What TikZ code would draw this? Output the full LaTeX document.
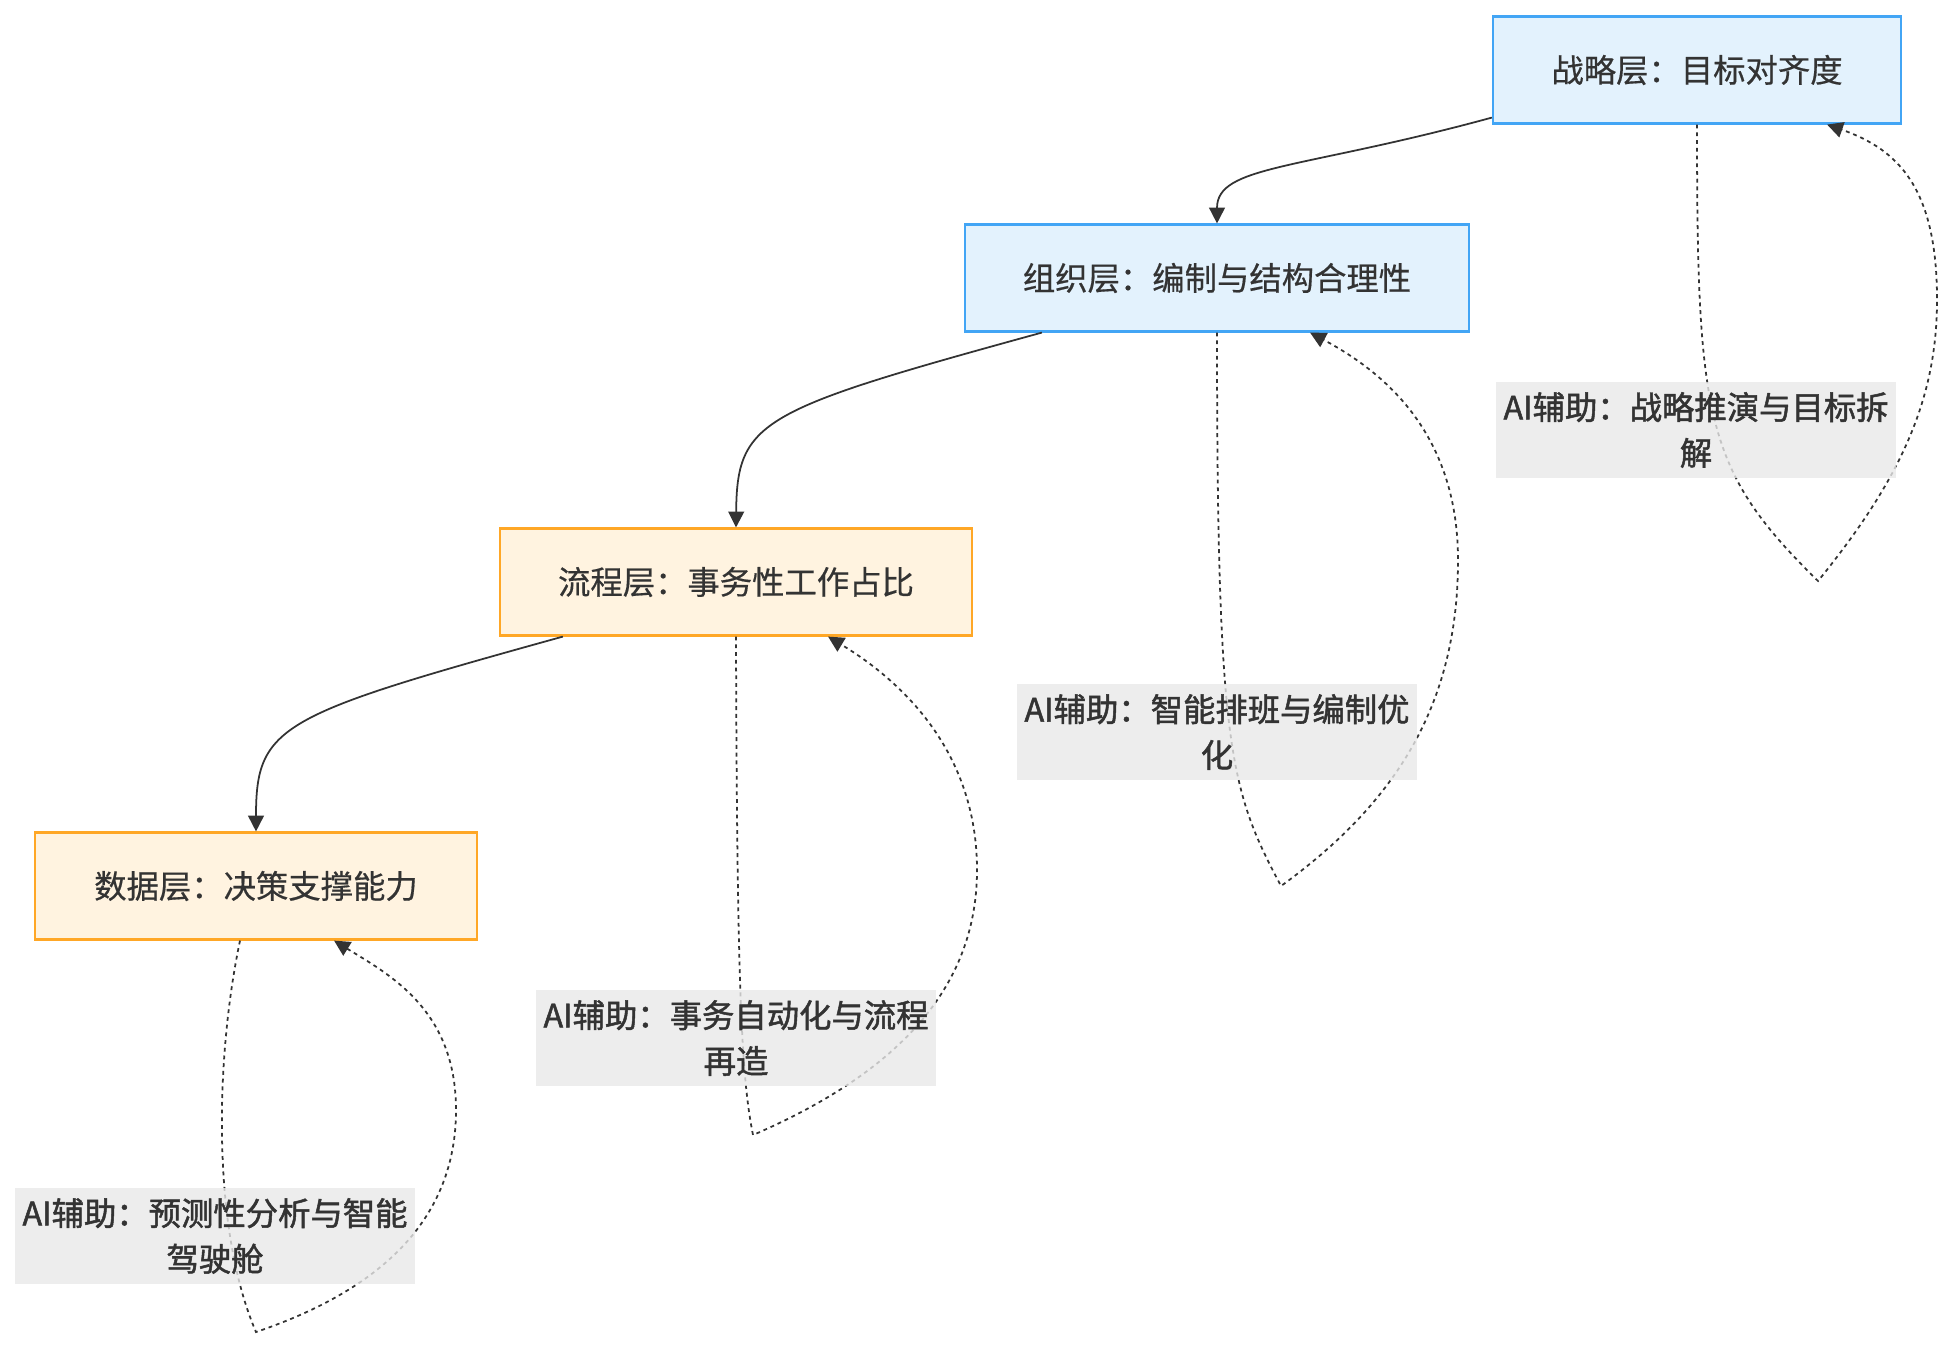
\documentclass[tikz,border=0pt]{standalone}
\usepackage{fontspec}
\setmainfont{Noto Sans CJK SC}
\newfontfamily\layerfont[FakeBold=0.5]{Noto Sans CJK SC}
\newfontfamily\tagfont[FakeBold=1.5]{Noto Sans CJK SC}
\usetikzlibrary{arrows.meta,positioning,calc}
\definecolor{textgray}{HTML}{333333}
\definecolor{bluefill}{HTML}{E3F2FD}
\definecolor{blueline}{HTML}{42A5F5}
\definecolor{orangefill}{HTML}{FFF3E0}
\definecolor{orangeline}{HTML}{FFA726}
\definecolor{labelfill}{HTML}{E8E8E8}
\tikzset{
  layer/.style={draw, line width=0.6pt, minimum height=1.07cm, inner sep=0pt,
    text=textgray, font=\layerfont\fontsize{9.2}{11}\selectfont},
  bluelayer/.style={layer, fill=bluefill, draw=blueline},
  orangelayer/.style={layer, fill=orangefill, draw=orangeline},
  aitag/.style={fill=labelfill, fill opacity=0.8, text opacity=1, text=textgray,
    align=center, minimum width=4cm, minimum height=0.95cm, inner sep=0pt,
    font=\tagfont\fontsize{9.2}{13}\selectfont},
  flow/.style={draw=textgray, line width=0.5pt, -{Triangle[length=4.5pt,width=4.5pt]}},
  aiflow/.style={draw=textgray, line width=0.5pt, dash pattern=on 1.1pt off 1.1pt,
    -{Triangle[length=4.5pt,width=4.5pt]}}
}

\begin{document}
\begin{tikzpicture}[x=0.01cm,y=-0.01cm]
\useasboundingbox (0,0) rectangle (1952,1348);
% layers
\node[bluelayer, minimum width=4.08cm] (S) at (1697,70) {战略层：目标对齐度};
\node[bluelayer, minimum width=5.04cm] (O) at (1217,278) {组织层：编制与结构合理性};
\node[orangelayer, minimum width=4.72cm] (P) at (736,582) {流程层：事务性工作占比};
\node[orangelayer, minimum width=4.41cm] (D) at (256,886) {数据层：决策支撑能力};
% top-down flow
\draw[flow] ([yshift=0.07cm]S.south west) .. controls (1300,170) and (1217,165) .. (O.north);
\draw[flow] ([xshift=0.78cm]O.south west) .. controls (760,410) and (737,420) .. (P.north);
\draw[flow] ([xshift=0.64cm]P.south west) .. controls (280,715) and (256,725) .. (D.north);
% AI loops
\coordinate (vS) at (1818,581);
\coordinate (vO) at (1281,886);
\coordinate (vP) at (753,1135);
\coordinate (vD) at (256,1332);
\draw[aiflow] (S.south) .. controls (1697,420) and (1705,470) .. (vS)
  .. controls (1900,480) and (1937,400) .. (1937,300)
  .. controls (1937,190) and (1900,150) .. ([xshift=1.3cm]S.south);
\draw[aiflow] (O.south) .. controls (1217,750) and (1230,790) .. (vO)
  .. controls (1400,800) and (1458,700) .. (1458,560)
  .. controls (1458,430) and (1380,370) .. ([xshift=0.93cm]O.south);
\draw[aiflow] (P.south) .. controls (737,1000) and (742,1080) .. (vP)
  .. controls (880,1080) and (977,1000) .. (977,870)
  .. controls (977,750) and (900,680) .. ([xshift=0.92cm]P.south);
\draw[aiflow] ([xshift=-0.16cm]D.south) .. controls (215,1060) and (212,1230) .. (vD)
  .. controls (380,1290) and (456,1220) .. (456,1110)
  .. controls (456,1010) and (390,975) .. ([xshift=0.78cm]D.south);
% labels
\node[aitag] (L1) at (1696,430) {AI辅助：战略推演与目标拆\\解};
\node[aitag] (L2) at (1217,732) {AI辅助：智能排班与编制优\\化};
\node[aitag] (L3) at (736,1038) {AI辅助：事务自动化与流程\\再造};
\node[aitag] (L4) at (215,1236) {AI辅助：预测性分析与智能\\驾驶舱};
\end{tikzpicture}
\end{document}
